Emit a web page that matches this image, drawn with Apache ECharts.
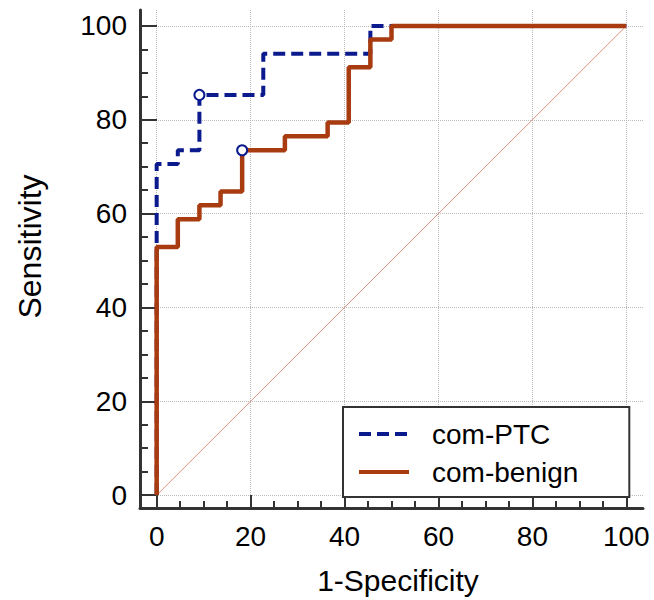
<!DOCTYPE html>
<html><head><meta charset="utf-8">
<script src="https://cdn.jsdelivr.net/npm/echarts@6/dist/echarts.min.js"></script>
<style>html,body{margin:0;padding:0;background:#fff}#c{width:654px;height:600px}</style>
</head><body><div id="c"></div>
<script>
const seriesNames = ['com-PTC', 'com-benign'];
const ptcFpr = [0, 0, 4.5, 9.1, 22.7, 45.5, 100];
const ptcTpr = [0, 70.6, 73.5, 85.3, 94.1, 100, 100];
const benignFpr = [0, 0, 4.5, 9.1, 13.6, 18.2, 27.3, 36.4, 40.9, 45.5, 50, 100];
const benignTpr = [0, 52.9, 58.8, 61.8, 64.7, 73.5, 76.5, 79.4, 91.2, 97.1, 100, 100];
const ptcCriterion = [9.1, 85.3];
const benignCriterion = [18.2, 73.5];
const diagonalX = [0, 100];
const diagonalY = [0, 100];
const majorTicks = [0, 20, 40, 60, 80, 100];
const minorTicks = [5, 10, 15, 25, 30, 35, 45, 50, 55, 65, 70, 75, 85, 90, 95];
const xTitle = '1-Specificity';
const yTitle = 'Sensitivity';

const FONT = 'Liberation Sans, Arial, sans-serif';
const BLUE = '#0B1A8C';
const RED = '#A83C10';
const AX = '#333';
const pairs = (xs, ys) => xs.map((x, i) => [x, ys[i]]);

const xRange = {min: -3.55, max: 103.55};
const yRange = {min: -2.75, max: 103.4};

const chart = echarts.init(document.getElementById('c'), null, {renderer: 'svg'});
chart.setOption({
  animation: false,
  backgroundColor: '#fff',
  grid: {left: 140, right: 11, top: 10, bottom: 88, containLabel: false},
  xAxis: [{
    type: 'value', ...xRange, position: 'bottom',
    axisLine: {show: true, onZero: false, lineStyle: {color: AX, width: 3}},
    axisTick: {show: true, inside: true, length: 13, customValues: majorTicks, lineStyle: {color: AX, width: 2}},
    axisLabel: {show: true, customValues: majorTicks, margin: 14, fontSize: 28, color: '#000', fontFamily: FONT},
    splitLine: {show: true, lineStyle: {type: 'dotted', color: '#bbb', width: 1}},
    name: xTitle, nameLocation: 'middle', nameGap: 57,
    nameTextStyle: {fontSize: 30, color: '#000', fontFamily: FONT, padding: [0, 0, 0, 13]}
  }, {
    type: 'value', ...xRange, position: 'bottom',
    axisLine: {show: false, onZero: false},
    axisTick: {show: true, inside: true, length: 7, customValues: minorTicks, lineStyle: {color: AX, width: 2}},
    axisLabel: {show: false},
    splitLine: {show: false}
  }],
  yAxis: [{
    type: 'value', ...yRange, position: 'left',
    axisLine: {show: true, onZero: false, lineStyle: {color: AX, width: 3}},
    axisTick: {show: true, inside: true, length: 17, customValues: majorTicks, lineStyle: {color: AX, width: 2}},
    axisLabel: {show: true, customValues: majorTicks, margin: 13, fontSize: 28, color: '#000', fontFamily: FONT},
    splitLine: {show: true, lineStyle: {type: 'dotted', color: '#bbb', width: 1}},
    name: yTitle, nameLocation: 'middle', nameGap: 94,
    nameTextStyle: {fontSize: 32, color: '#000', fontFamily: FONT, padding: [0, 0, 0, 25]}
  }, {
    type: 'value', ...yRange, position: 'left',
    axisLine: {show: false, onZero: false},
    axisTick: {show: true, inside: true, length: 8, customValues: minorTicks, lineStyle: {color: AX, width: 2}},
    axisLabel: {show: false},
    splitLine: {show: false}
  }],
  legend: {
    data: seriesNames, orient: 'vertical', left: 343, top: 407,
    padding: [11, 51, 9, 14], itemWidth: 50, itemHeight: 14, itemGap: 6,
    borderColor: AX, borderWidth: 2, backgroundColor: '#fff',
    itemStyle: {color: 'transparent', borderWidth: 0, opacity: 0},
    lineStyle: {width: 4},
    textStyle: {fontSize: 28, color: '#000', fontFamily: FONT, lineHeight: 32, padding: [0, 0, 0, 18]}
  },
  series: [{
    type: 'line', name: 'chance', data: pairs(diagonalX, diagonalY), symbol: 'none', silent: true,
    color: '#E0907A', lineStyle: {color: '#E0907A', width: 1, opacity: 1}, z: 1
  }, {
    type: 'line', name: seriesNames[0], data: pairs(ptcFpr, ptcTpr), step: 'end', symbol: 'none',
    lineStyle: {color: BLUE, width: 4, type: [12, 6]}, itemStyle: {color: BLUE}, z: 2
  }, {
    type: 'line', name: seriesNames[1], data: pairs(benignFpr, benignTpr), step: 'end', symbol: 'none',
    lineStyle: {color: RED, width: 4.5}, itemStyle: {color: RED}, z: 3
  }, {
    type: 'scatter', name: 'criterion', data: [ptcCriterion, benignCriterion], symbol: 'circle', symbolSize: 10,
    itemStyle: {color: '#fff', borderColor: BLUE, borderWidth: 2, opacity: 1}, z: 4
  }]
});
</script></body></html>
